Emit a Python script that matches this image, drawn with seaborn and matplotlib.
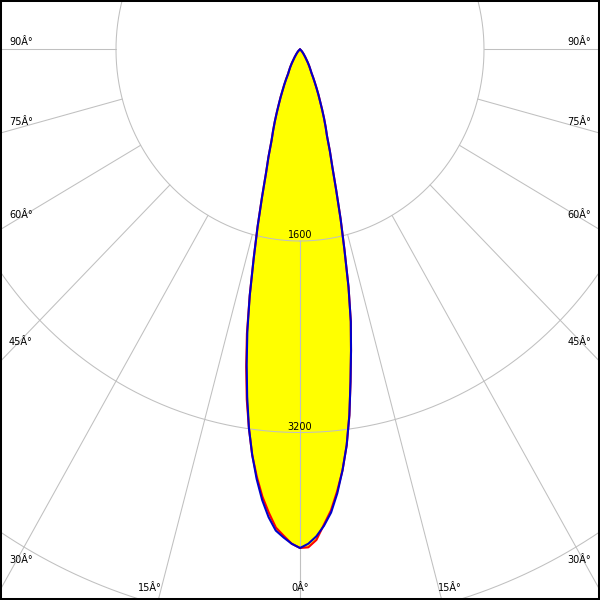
import numpy as np
import matplotlib
matplotlib.use("Agg")
import matplotlib.pyplot as plt
from matplotlib.patches import Rectangle
import seaborn as sns

angles = [0, 1, 2, 3, 4, 5, 6, 7, 8, 9, 10, 11, 12, 13, 14, 15, 16, 17, 18, 19, 20,
          21, 22, 23, 24, 25, 26, 27, 28, 30, 32, 34, 36, 40, 45, 50, 60, 70, 80, 90]
# plano C0 / C180 (vermelho)
c0 = [4165, 4160, 4100, 3975, 3860, 3705, 3536, 3331, 3085, 2809, 2555, 2316, 2030, 1720, 1460, 1215, 1020,
      890, 760, 685, 610, 535, 465, 410, 355, 305, 262, 220, 198, 162, 128, 96, 76, 48, 28, 16, 5, 2, 0, 0]
c180 = [4165, 4130, 4065, 4000, 3880, 3750, 3590, 3412, 3193, 2960, 2695, 2420, 2103, 1789, 1523, 1275, 1070,
        937, 802, 720, 641, 562, 490, 430, 370, 323, 275, 228, 207, 170, 134, 100, 80, 50, 30, 18, 6, 2, 0, 0]
# plano C90 / C270 (azul)
c90 = [4165, 4130, 4070, 3985, 3878, 3722, 3536, 3331, 3085, 2809, 2555, 2316, 2030, 1720, 1460, 1215, 1020,
       890, 760, 685, 610, 535, 465, 410, 355, 305, 262, 220, 198, 162, 128, 96, 76, 48, 28, 16, 5, 2, 0, 0]
c270 = [4165, 4130, 4080, 4025, 3917, 3778, 3608, 3412, 3193, 2937, 2671, 2400, 2103, 1789, 1523, 1275, 1070,
        937, 802, 720, 641, 562, 490, 430, 370, 323, 275, 228, 207, 170, 134, 100, 80, 50, 30, 18, 6, 2, 0, 0]

rings = [1600, 3200, 4800, 6400]
ring_labels = ["1600", "3200"]
spoke_angles = [0, 15, 30, 45, 60, 75, 90]
side_labels = ["90Â°", "75Â°", "60Â°", "45Â°", "30Â°"]
bottom_labels = ["15Â°", "0Â°", "15Â°"]

sns.set_theme(style="white")
plt.rcParams["font.family"] = ["DejaVu Sans"]

W = 600
cx, cy = 300, 49.5        # centro do diagrama (pixels, a partir do topo)
ky = 191.5 / 1600         # pixels por cd na vertical
kx = 184.0 / 1600         # o diagrama original e um pouco achatado na horizontal
Ry = 700
Rx = Ry * kx / ky
rmax = Ry / ky

fig = plt.figure(figsize=(6, 6), dpi=100)
ax = fig.add_axes([(cx - Rx) / W, (W - cy - Ry) / W, 2 * Rx / W, 2 * Ry / W], projection="polar")
ax.set_aspect("auto")
ax.set_theta_zero_location("S")
ax.set_rlim(0, rmax)
ax.grid(False)
ax.set_xticks([])
ax.set_yticks([])
ax.spines["polar"].set_visible(False)

grid_col = "#c0c0c0"
t = np.linspace(0, 2 * np.pi, 720)
for r in rings:
    ax.plot(t, np.full_like(t, r), color=grid_col, lw=0.75, zorder=2.5)
for a in spoke_angles:
    for s in (1, -1):
        th = np.deg2rad(s * a)
        ax.plot([th, th], [rings[0], rmax], color=grid_col, lw=0.75, zorder=2.5)


def curve(side_a, side_b):
    deg = np.array(angles, dtype=float)
    th = np.deg2rad(np.concatenate([-deg[::-1], deg[1:]]))
    rr = np.concatenate([np.array(side_b)[::-1], np.array(side_a)[1:]])
    return th, rr


th_r, r_r = curve(c0, c180)
th_b, r_b = curve(c90, c270)
ax.fill(th_r, r_r, color="#ffff00", zorder=2, lw=0)
ax.fill(th_b, r_b, color="#ffff00", zorder=2, lw=0)
sns.lineplot(x=th_r, y=r_r, sort=False, estimator=None, color="#ff0000", lw=1.5, ax=ax, zorder=3)
sns.lineplot(x=th_b, y=r_b, sort=False, estimator=None, color="#0000cc", lw=1.5, ax=ax, zorder=4)

# rotulos dos aneis
for r, lab in zip(rings, ring_labels):
    ax.annotate(lab, xy=(0, r), xytext=(0, 4.3), textcoords="offset points",
                ha="center", va="center", fontsize=7, color="black", zorder=5)

# rotulos dos angulos junto a moldura
side_y = [42, 122, 215, 342, 560]
for y, lab in zip(side_y, side_labels):
    fig.text(9 / W, 1 - y / W, lab, ha="left", va="center", fontsize=7, color="black")
    fig.text((W - 9) / W, 1 - y / W, lab, ha="right", va="center", fontsize=7, color="black")
for x, lab in zip([150, 300, 450], bottom_labels):
    fig.text(x / W, 1 - 588 / W, lab, ha="center", va="center", fontsize=7, color="black")

fig.patches.append(Rectangle((0, 0), 1, 1, transform=fig.transFigure, fill=False,
                             ec="black", lw=2.9, zorder=10))

fig.savefig("out.png", dpi=100)
